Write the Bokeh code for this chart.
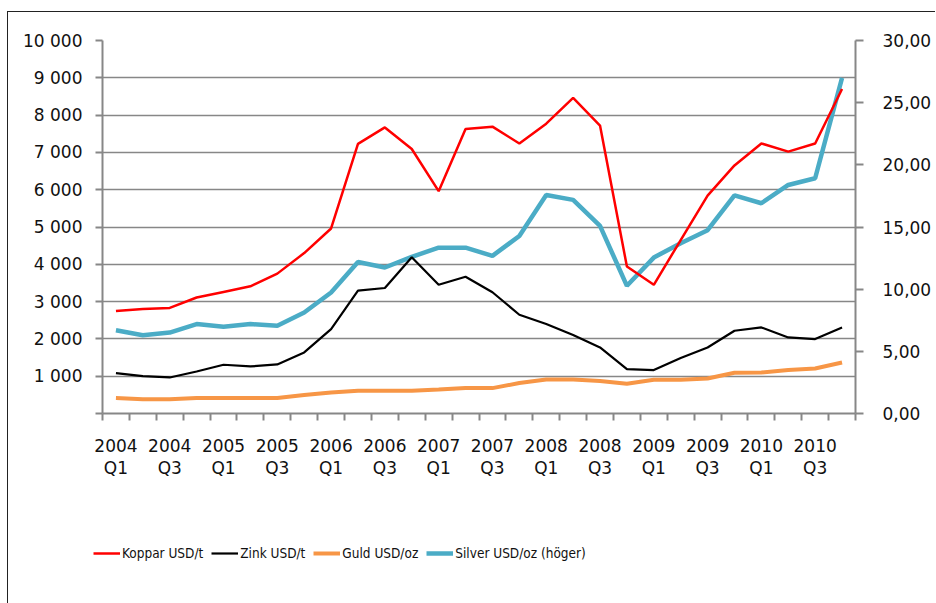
from bokeh.plotting import figure
from bokeh.layouts import column
from bokeh.models import (Range1d, LinearAxis, FixedTicker, Legend, LegendItem, ColumnDataSource)
from bokeh.embed import file_html
from bokeh.resources import INLINE

quarters = ["2004 Q1", "2004 Q2", "2004 Q3", "2004 Q4", "2005 Q1", "2005 Q2", "2005 Q3", "2005 Q4",
            "2006 Q1", "2006 Q2", "2006 Q3", "2006 Q4", "2007 Q1", "2007 Q2", "2007 Q3", "2007 Q4",
            "2008 Q1", "2008 Q2", "2008 Q3", "2008 Q4", "2009 Q1", "2009 Q2", "2009 Q3", "2009 Q4",
            "2010 Q1", "2010 Q2", "2010 Q3", "2010 Q4"]

koppar = [2750, 2800, 2830, 3110, 3260, 3410, 3750, 4300, 4960, 7230, 7670, 7090, 5960, 7630,
          7690, 7240, 7770, 8460, 7720, 3940, 3450, 4650, 5840, 6650, 7240, 7020, 7240, 8700]
zink = [1084, 1003, 966, 1127, 1307, 1261, 1315, 1637, 2264, 3292, 3365, 4190, 3453, 3668,
        3250, 2648, 2400, 2104, 1771, 1191, 1164, 1486, 1771, 2219, 2308, 2039, 1996, 2308]
guld = [413, 380, 380, 413, 413, 413, 413, 494, 564, 609, 609, 609, 644, 681,
        681, 816, 912, 912, 869, 797, 904, 904, 939, 1092, 1100, 1164, 1207, 1368]
silver = [6.70, 6.30, 6.51, 7.19, 6.97, 7.19, 7.05, 8.12, 9.73, 12.19, 11.74, 12.60, 13.34, 13.34,
          12.68, 14.28, 17.58, 17.18, 15.09, 10.27, 12.54, 13.70, 14.74, 17.55, 16.91, 18.38, 18.92, 27.00]

series_names = ["Koppar USD/t", "Zink USD/t", "Guld USD/oz", "Silver USD/oz (höger)"]

left_ticks = [0, 1000, 2000, 3000, 4000, 5000, 6000, 7000, 8000, 9000, 10000]
left_labels = ["", "1 000", "2 000", "3 000", "4 000", "5 000", "6 000", "7 000", "8 000", "9 000", "10 000"]
right_ticks = [0, 5, 10, 15, 20, 25, 30]
right_labels = ["0,00", "5,00", "10,00", "15,00", "20,00", "25,00", "30,00"]

xs = [i + 0.5 for i in range(len(quarters))]
src = ColumnDataSource(dict(x=xs, q=quarters, koppar=koppar, zink=zink, guld=guld, silver=silver))

FONT = "DejaVu Sans"
GRAY = "#878787"
COLORS = {"koppar": "#FF0000", "zink": "#000000", "guld": "#F79646", "silver": "#4BACC6"}
WIDTHS = {"koppar": 2.5, "zink": 2.2, "guld": 4, "silver": 4.5}

W = 927
p = figure(width=W, height=489, x_range=Range1d(0, len(quarters)), y_range=Range1d(0, 10000),
           output_backend="svg", toolbar_location=None,
           min_border_left=94, min_border_right=80, min_border_top=28, min_border_bottom=88)
p.outline_line_color = None
p.background_fill_color = "white"
p.border_fill_color = "white"

p.extra_y_ranges = {"right": Range1d(0, 30)}

# x axis
p.xaxis.ticker = FixedTicker(ticks=[xs[i] for i in range(0, len(quarters), 2)],
                             minor_ticks=list(range(0, len(quarters) + 1)))
p.xaxis.major_label_overrides = {xs[i]: quarters[i].replace(" ", "\n") for i in range(0, len(quarters), 2)}
p.xaxis.major_tick_line_color = None
p.xaxis.major_tick_out = 0
p.xaxis.major_tick_in = 0
p.xaxis.minor_tick_out = 7
p.xaxis.minor_tick_in = 0
p.xaxis.minor_tick_line_color = GRAY
p.xaxis.minor_tick_line_width = 2
p.xaxis.axis_line_color = GRAY
p.xaxis.axis_line_width = 2
p.xaxis.major_label_standoff = 15
p.xaxis.major_label_text_font = FONT
p.xaxis.major_label_text_font_size = "17px"
p.xaxis.major_label_text_color = "#111111"
p.xaxis.major_label_text_line_height = 1.1

# left axis
p.yaxis.ticker = FixedTicker(ticks=left_ticks, minor_ticks=[])
p.yaxis.major_label_overrides = {t: l for t, l in zip(left_ticks, left_labels)}
p.yaxis.major_tick_out = 7
p.yaxis.major_tick_in = 0
p.yaxis.major_tick_line_color = GRAY
p.yaxis.major_tick_line_width = 2
p.yaxis.minor_tick_line_color = None
p.yaxis.axis_line_color = GRAY
p.yaxis.axis_line_width = 2
p.yaxis.major_label_standoff = 13
p.yaxis.major_label_text_font = FONT
p.yaxis.major_label_text_font_size = "17px"
p.yaxis.major_label_text_color = "#111111"

ry = LinearAxis(y_range_name="right", ticker=FixedTicker(ticks=right_ticks, minor_ticks=[]))
ry.major_label_overrides = {t: l for t, l in zip(right_ticks, right_labels)}
ry.major_tick_out = 8
ry.major_tick_in = 0
ry.major_tick_line_color = GRAY
ry.major_tick_line_width = 2
ry.minor_tick_line_color = None
ry.axis_line_color = GRAY
ry.axis_line_width = 2
ry.major_label_standoff = 19
ry.major_label_text_font = FONT
ry.major_label_text_font_size = "17px"
ry.major_label_text_color = "#111111"
p.add_layout(ry, "right")

p.xgrid.grid_line_color = None
p.ygrid.ticker = FixedTicker(ticks=left_ticks[1:])
p.ygrid.grid_line_color = GRAY
p.ygrid.grid_line_width = 1.5

p.line("x", "silver", source=src, y_range_name="right", line_color=COLORS["silver"], line_width=WIDTHS["silver"])
p.line("x", "guld", source=src, line_color=COLORS["guld"], line_width=WIDTHS["guld"])
p.line("x", "zink", source=src, line_color=COLORS["zink"], line_width=WIDTHS["zink"])
p.line("x", "koppar", source=src, line_color=COLORS["koppar"], line_width=WIDTHS["koppar"])

# legend strip (separate figure so the legend is not clipped by the plot frame)
lg = figure(width=W, height=102, x_range=Range1d(0, 1), y_range=Range1d(0, 1),
            output_backend="svg", toolbar_location=None, x_axis_type=None, y_axis_type=None,
            min_border_left=0, min_border_right=0, min_border_top=0, min_border_bottom=0)
lg.outline_line_color = None
lg.xgrid.grid_line_color = None
lg.ygrid.grid_line_color = None
lg.border_fill_color = "white"
legend_src = ColumnDataSource(dict(x=[float("nan")], y=[float("nan")]))
items = []
for key, name in zip(["koppar", "zink", "guld", "silver"], series_names):
    r = lg.line("x", "y", source=legend_src, line_color=COLORS[key], line_width=WIDTHS[key])
    items.append(LegendItem(label=name, renderers=[r], index=0))

legend = Legend(items=items, orientation="horizontal", location=(85, 41), padding=0, margin=0,
                spacing=8, glyph_width=27, glyph_height=18, label_standoff=2,
                label_height=18, border_line_color=None, background_fill_alpha=0,
                label_text_font="DejaVu Sans Condensed, Liberation Sans", label_text_font_size="13.5px",
                label_text_color="#111111")
lg.add_layout(legend, "center")

layout = column(p, column(lg, spacing=0), spacing=0)
layout.margin = (11, 0, 0, 7)
layout.styles = {"border-left": "1px solid #222", "border-top": "1px solid #222"}

open("out.html", "w").write(file_html(layout, INLINE))
